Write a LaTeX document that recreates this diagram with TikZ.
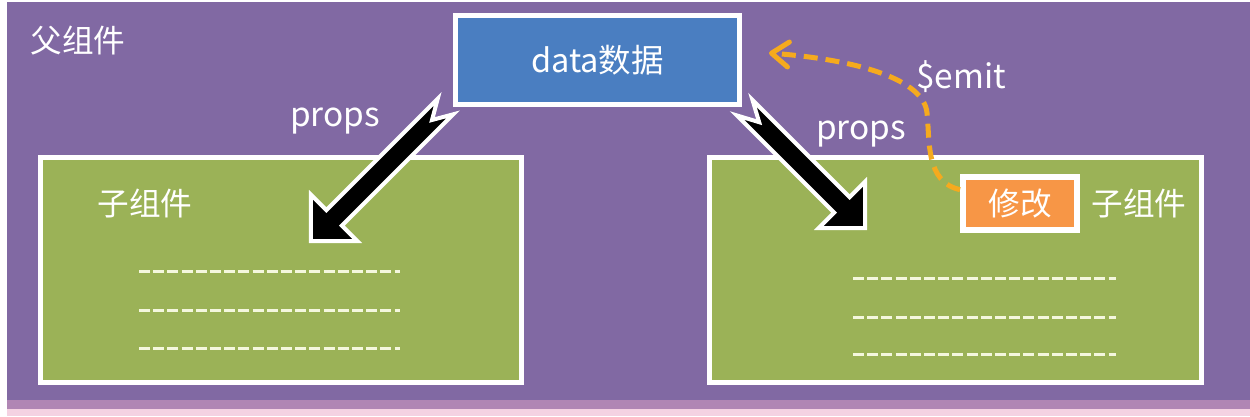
\documentclass[tikz,border=0pt]{standalone}
\usepackage{xcolor}
\usepackage{tikz}
\usepackage{fontspec}
\usetikzlibrary{arrows.meta}
\newfontfamily\cjk{Noto Sans CJK SC}

\definecolor{slidepurple}{HTML}{8169A3}
\definecolor{childgreen}{HTML}{9BB257}
\definecolor{datablue}{HTML}{4A7EC1}
\definecolor{editorange}{HTML}{F79646}
\definecolor{emitgold}{HTML}{F5AA1E}
\definecolor{dashcream}{HTML}{F4F7DE}
\definecolor{stripmauve}{HTML}{B086B4}
\definecolor{strippink}{HTML}{F4D2E2}

\begin{document}
\begin{tikzpicture}[x=0.02cm, y=-0.02cm,
  box/.style={draw=white, line width=0.1cm, inner sep=0pt},
  cjklabel/.style={text=white, font=\cjk\fontsize{18}{21}\selectfont},
  latinlabel/.style={text=white, font=\cjk\fontsize{19}{22}\selectfont},
  dashrow/.style={dashcream, line width=0.06cm, dash pattern=on 0.22cm off 0.064cm},
  propsarrow/.style={fill=black, draw=white, line width=0.08cm, line join=miter},
  emitline/.style={emitgold, line width=0.1cm, dash pattern=on 0.28cm off 0.16cm,
    -{Straight Barb[length=0.34cm, width=0.5cm, round]}}]
  \useasboundingbox (0,0) rectangle (1250,416);

  % Slide background
  \fill[white] (0,0) rectangle (1250,416);
  \fill[slidepurple] (7,2) rectangle (1250,400);
  \fill[stripmauve] (7,400) rectangle (1250,409);
  \fill[strippink] (7,409) rectangle (1250,416);

  \node[cjklabel] (parent) at (78,41) {父组件};

  % Parent data
  \node[box, fill=datablue, minimum width=5.68cm, minimum height=1.78cm,
        text=white, font=\cjk\fontsize{18.5}{22}\selectfont] (data) at (597.5,60) {data数据};

  % Child components
  \node[box, fill=childgreen, minimum width=9.62cm, minimum height=4.5cm] (lchild) at (281,270) {};
  \node[box, fill=childgreen, minimum width=9.84cm, minimum height=4.5cm] (rchild) at (955.5,270) {};
  \node[cjklabel] (lname) at (145,203) {子组件};
  \node[cjklabel] (rname) at (1139,203) {子组件};
  \node[box, line width=0.12cm, fill=editorange, minimum width=2.28cm, minimum height=1.06cm,
        cjklabel] (edit) at (1020,203.5) {修改};

  % Template lines
  \foreach \y in {271,310,348}
    \draw[dashrow] (139,\y) -- (400,\y);
  \foreach \y in {278,317,354}
    \draw[dashrow] (853,\y) -- (1116,\y);

  % props arrows (tip at the origin, notched tail along +x)
  \coordinate (lto) at (309,243);
  \coordinate (rto) at (867,230);

  \begin{scope}[shift={(lto)}, rotate=45]
    \draw[propsarrow] (2.8,0) -- (35.5,32.7) -- (35.5,11) -- (193,11) -- (174,0)
      -- (193,-11) -- (35.5,-11) -- (35.5,-32.7) -- cycle;
  \end{scope}
  \begin{scope}[shift={(rto)}, rotate=135]
    \draw[propsarrow] (2.8,0) -- (35.5,32.7) -- (35.5,11) -- (173,11) -- (152.5,0)
      -- (173,-11) -- (35.5,-11) -- (35.5,-32.7) -- cycle;
  \end{scope}

  \node[latinlabel] (lprops) at (335,121) {props};
  \node[latinlabel] (rprops) at (861,134.5) {props};

  % $emit back to the parent
  \coordinate (emitend) at (769,53);
  \draw[emitline] (edit.167) .. controls (925,182) and (930,140) .. (927,113)
    .. controls (924,80) and (860,60) .. (emitend);
  \node[latinlabel] (emit) at (961,77) {\$emit};
\end{tikzpicture}
\end{document}
